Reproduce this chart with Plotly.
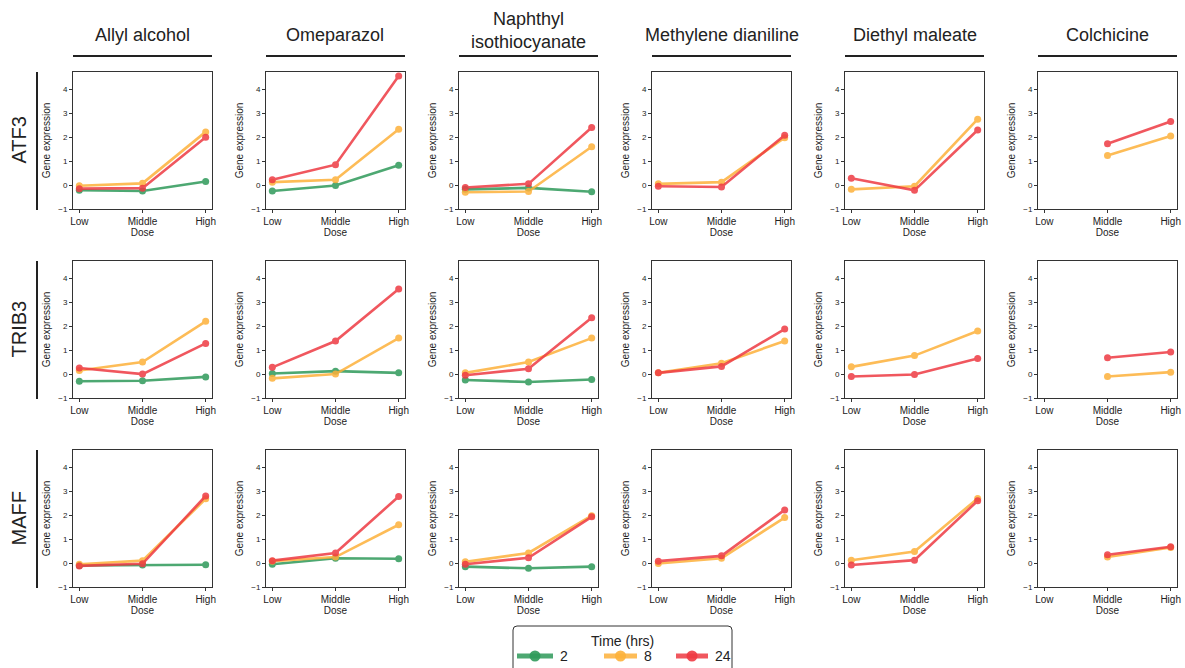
import plotly.graph_objects as go

W, H = 1185, 668

compounds = ["Allyl alcohol", "Omeparazol", "Naphthyl<br>isothiocyanate",
             "Methylene dianiline", "Diethyl maleate", "Colchicine"]
genes = ["ATF3", "TRIB3", "MAFF"]
doses = ["Low", "Middle", "High"]
times = ["2", "8", "24"]
colors = {"2": "#2f9a5a", "8": "#fdb13a", "24": "#ee3a43"}
N = None

# values per gene: time -> list over compounds of [Low, Middle, High]
ATF3_2 = [[-0.22, -0.25, 0.15], [-0.25, -0.02, 0.83], [-0.18, -0.12, -0.28],
          [N, N, N], [N, N, N], [N, N, N]]
ATF3_8 = [[-0.03, 0.07, 2.22], [0.12, 0.22, 2.33], [-0.30, -0.27, 1.60],
          [0.05, 0.12, 1.98], [-0.18, -0.05, 2.75], [N, 1.23, 2.05]]
ATF3_24 = [[-0.15, -0.13, 2.00], [0.22, 0.85, 4.55], [-0.10, 0.05, 2.40],
           [-0.05, -0.08, 2.08], [0.28, -0.22, 2.30], [N, 1.72, 2.65]]

TRIB3_2 = [[-0.30, -0.28, -0.12], [0.02, 0.12, 0.05], [-0.25, -0.33, -0.23],
           [N, N, N], [N, N, N], [N, N, N]]
TRIB3_8 = [[0.15, 0.50, 2.20], [-0.18, 0.00, 1.50], [0.05, 0.50, 1.50],
           [0.05, 0.45, 1.38], [0.30, 0.77, 1.80], [N, -0.10, 0.08]]
TRIB3_24 = [[0.25, 0.00, 1.28], [0.28, 1.38, 3.55], [-0.05, 0.22, 2.35],
            [0.05, 0.32, 1.88], [-0.10, -0.02, 0.65], [N, 0.68, 0.92]]

MAFF_2 = [[-0.10, -0.08, -0.07], [-0.05, 0.20, 0.18], [-0.15, -0.22, -0.15],
          [N, N, N], [N, N, N], [N, N, N]]
MAFF_8 = [[-0.05, 0.10, 2.68], [0.08, 0.25, 1.60], [0.05, 0.42, 1.98],
          [-0.02, 0.20, 1.90], [0.12, 0.48, 2.70], [N, 0.25, 0.65]]
MAFF_24 = [[-0.12, -0.03, 2.80], [0.10, 0.42, 2.78], [-0.05, 0.22, 1.93],
           [0.08, 0.30, 2.22], [-0.08, 0.12, 2.60], [N, 0.35, 0.68]]

data = {
    "ATF3": {"2": ATF3_2, "8": ATF3_8, "24": ATF3_24},
    "TRIB3": {"2": TRIB3_2, "8": TRIB3_8, "24": TRIB3_24},
    "MAFF": {"2": MAFF_2, "8": MAFF_8, "24": MAFF_24},
}

yticks = [-1, 0, 1, 2, 3, 4]
yticktext = ["\u22121", "0", "1", "2", "3", "4"]

col_left = [73, 266, 459, 652, 845, 1038]
pw = 139
row_top = [72, 261, 450]
ph = 137

FONT = "Liberation Sans, Arial, sans-serif"


def px(x):
    return x / W


def py(y):
    return 1 - y / H


fig = go.Figure()
layout = {}
for r, g in enumerate(genes):
    for c, comp in enumerate(compounds):
        idx = r * 6 + c + 1
        xa = "xaxis" if idx == 1 else f"xaxis{idx}"
        ya = "yaxis" if idx == 1 else f"yaxis{idx}"
        xref = "x" if idx == 1 else f"x{idx}"
        yref = "y" if idx == 1 else f"y{idx}"
        for t in times:
            vals = data[g][t][c]
            if all(v is None for v in vals):
                continue
            fig.add_trace(go.Scatter(
                x=[0, 1, 2], y=vals, mode="lines+markers",
                line=dict(color=colors[t], width=2.6),
                marker=dict(color=colors[t], size=7),
                opacity=0.85,
                name=t, legendgroup=t, showlegend=False,
                xaxis=xref, yaxis=yref, connectgaps=False,
            ))
        layout[xa] = dict(
            domain=[px(col_left[c]), px(col_left[c] + pw)], anchor=yref, range=[-0.1, 2.1],
            tickmode="array", tickvals=[0, 1, 2], ticktext=doses,
            ticks="outside", ticklen=3, tickcolor="#333", tickwidth=1,
            showline=True, linecolor="#333", linewidth=1, mirror=True,
            showgrid=False, zeroline=False, ticklabeloverflow="allow",
            tickfont=dict(size=10, color="#222", family=FONT),
            title=dict(text="Dose", font=dict(size=10, color="#222", family=FONT), standoff=1),
            fixedrange=True,
        )
        layout[ya] = dict(
            domain=[py(row_top[r] + ph), py(row_top[r])], anchor=xref, range=[-1, 4.72],
            tickmode="array", tickvals=yticks, ticktext=yticktext,
            ticks="outside", ticklen=3, tickcolor="#333", tickwidth=1,
            showline=True, linecolor="#333", linewidth=1, mirror=True,
            showgrid=False, zeroline=False,
            tickfont=dict(size=8, color="#222", family=FONT),
            title=dict(text="Gene expression", font=dict(size=10, color="#222", family=FONT), standoff=5),
            fixedrange=True,
        )

annotations = []
shapes = []
for c, comp in enumerate(compounds):
    cx = col_left[c] + pw / 2
    two_line = "<br>" in comp
    annotations.append(dict(
        text=comp, x=px(cx), y=py(31 if two_line else 35), xref="paper", yref="paper",
        showarrow=False, xanchor="center", yanchor="middle",
        font=dict(size=18, color="#222", family=FONT),
    ))
    shapes.append(dict(type="line", xref="paper", yref="paper",
                       x0=px(col_left[c]), x1=px(col_left[c] + pw),
                       y0=py(56), y1=py(56),
                       line=dict(color="#222", width=2)))
for r, g in enumerate(genes):
    cy = row_top[r] + ph / 2
    annotations.append(dict(
        text=g, x=px(18), y=py(cy), xref="paper", yref="paper",
        showarrow=False, textangle=-90, xanchor="center", yanchor="middle",
        font=dict(size=20, color="#222", family=FONT),
    ))
    shapes.append(dict(type="line", xref="paper", yref="paper",
                       x0=px(37), x1=px(37),
                       y0=py(row_top[r]), y1=py(row_top[r] + ph + 1),
                       line=dict(color="#222", width=2)))

# ---- legend box (drawn by hand, matplotlib-style) ----
lx0, lx1, ly0, ly1, rad = 513, 732, 626, 680, 4
path = (f"M {px(lx0)},{py(ly1)} L {px(lx0)},{py(ly0 + rad)} "
        f"Q {px(lx0)},{py(ly0)} {px(lx0 + rad)},{py(ly0)} "
        f"L {px(lx1 - rad)},{py(ly0)} Q {px(lx1)},{py(ly0)} {px(lx1)},{py(ly0 + rad)} "
        f"L {px(lx1)},{py(ly1)}")
shapes.append(dict(type="path", xref="paper", yref="paper", path=path,
                   line=dict(color="#333", width=1), fillcolor="white", layer="above"))
annotations.append(dict(
    text="Time (hrs)", x=px(622), y=py(641), xref="paper", yref="paper",
    showarrow=False, xanchor="center", yanchor="middle",
    font=dict(size=14, color="#222", family=FONT),
))
leg_x = {"2": (517, 553), "8": (604, 637), "24": (676, 708)}
iy = 656
for t in times:
    a, b = leg_x[t]
    shapes.append(dict(type="line", xref="paper", yref="paper",
                       x0=px(a), x1=px(b), y0=py(iy), y1=py(iy),
                       line=dict(color=colors[t], width=5), opacity=0.85, layer="above"))
    m = (a + b) / 2
    shapes.append(dict(type="circle", xref="paper", yref="paper",
                       x0=px(m - 5.5), x1=px(m + 5.5), y0=py(iy + 5.5), y1=py(iy - 5.5),
                       fillcolor=colors[t], line=dict(width=0), opacity=0.9, layer="above"))
    annotations.append(dict(
        text=t, x=px(b + 5), y=py(iy), xref="paper", yref="paper",
        showarrow=False, xanchor="left", yanchor="middle",
        font=dict(size=14, color="#222", family=FONT),
    ))

fig.update_layout(
    width=W, height=H,
    margin=dict(l=0, r=0, t=0, b=0, autoexpand=False),
    plot_bgcolor="white", paper_bgcolor="white",
    font=dict(family=FONT, color="#222"),
    annotations=annotations, shapes=shapes,
    showlegend=False,
    **layout,
)

fig.write_html("out.html", config={"displayModeBar": False},
               post_script="document.body.style.margin='0';")
